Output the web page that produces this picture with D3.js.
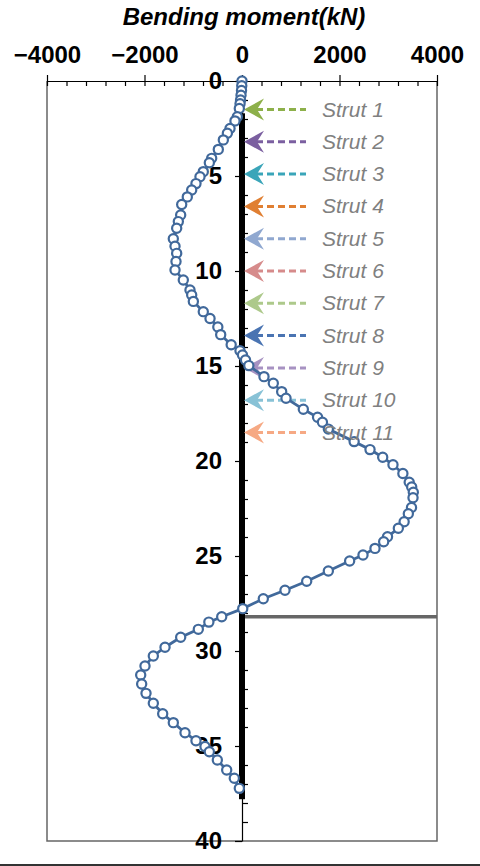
<!DOCTYPE html>
<head>
<meta charset="utf-8">
<style>
body { margin: 0; background: #fff; }
svg { display: block; }
.tick text {
  font-family: "Liberation Sans", Arial, sans-serif;
  font-weight: bold;
  font-size: 24px;
  fill: #000;
}
.title {
  font-family: "Liberation Sans", Arial, sans-serif;
  font-weight: bold;
  font-style: italic;
  font-size: 24px;
}
.strut-label {
  font-family: "Liberation Sans", Arial, sans-serif;
  font-style: italic;
  font-size: 21px;
  fill: #808080;
}
</style>
</head>
<body>
<svg width="480" height="866"></svg>
<script src="https://d3js.org/d3.v7.min.js"></script>
<script>

// depth (m) and bending moment (kN)
var depth = [0, 0.25, 0.5, 0.75, 1.0, 1.2, 1.45, 1.88, 2.1, 2.5, 2.75, 3.1, 3.6, 4.07, 4.3,
  4.77, 5.04, 5.4, 5.74, 6.1, 6.5, 7.05, 7.4, 7.75, 8.3, 8.7, 9.07, 9.5, 9.95, 10.47,
  11.0, 11.26, 11.6, 12.14, 12.5, 12.95, 13.35, 13.88, 14.2, 14.42, 14.68, 14.98, 15.56,
  15.91, 16.35, 16.7, 17.28, 17.7, 17.96, 18.32, 18.98, 19.4, 19.8, 20.2, 20.66, 21.12,
  21.37, 21.64, 21.93, 22.45, 22.78, 23.2, 23.54, 23.99, 24.25, 24.6, 24.95, 25.26, 25.79,
  26.33, 26.8, 27.25, 27.77, 28.2, 28.48, 28.86, 29.28, 29.8, 30.26, 30.79, 31.26, 31.74,
  32.23, 32.75, 33.3, 33.77, 34.3, 34.72, 35.03, 35.3, 35.74, 36.26, 36.7, 37.23];

var moment = [0, -5, -10, -20, -30, -40, -55, -96, -144, -246, -300, -383, -486, -622, -670,
  -794, -862, -944, -1032, -1122, -1237, -1258, -1306, -1340, -1409, -1374, -1340, -1354, -1374, -1204,
  -1067, -1032, -998, -794, -656, -496, -437, -222, -41, 10, 72, 140, 451,
  642, 814, 903, 1258, 1550, 1650, 1771, 2300, 2626, 2886, 3097, 3300, 3430,
  3481, 3514, 3508, 3477, 3412, 3326, 3207, 2985, 2906, 2728, 2482, 2208, 1771,
  1327, 882, 437, 15, -416, -680, -896, -1258, -1579, -1819, -1990, -2078, -2058,
  -1969, -1819, -1627, -1409, -1169, -944, -759, -670, -506, -314, -158, -55];

var strutNames = ["Strut 1", "Strut 2", "Strut 3", "Strut 4", "Strut 5", "Strut 6",
  "Strut 7", "Strut 8", "Strut 9", "Strut 10", "Strut 11"];
var strutDepth = [1.5, 3.2, 4.9, 6.6, 8.3, 10.0, 11.7, 13.4, 15.1, 16.8, 18.5];

var wallTop = 1.7, wallBottom = 37.8;   // wall extent (m)
var excavation = 28.2;                  // final excavation level (m)

var xMajor = [-4000, -2000, 0, 2000, 4000];
var yMajor = [0, 5, 10, 15, 20, 25, 30, 35, 40];

var strutColor = ["#8db04a", "#7b5fa0", "#3aa5b9", "#e07f32", "#90a8d0", "#d68b8b",
  "#adc98b", "#4a74b2", "#a792c2", "#88c2d6", "#f6a984"];
var blue = "#41699b";

var svg = d3.select("svg");

var x = d3.scaleLinear().domain([-4000, 4000]).range([47, 437]);
var y = d3.scaleLinear().domain([0, 40]).range([81, 841]);

// plot box
svg.append("path")
    .attr("d", "M" + x(-4000) + "," + y(0) + "V" + y(40) + "H" + x(4000) + "V" + y(0))
    .attr("fill", "none")
    .attr("stroke", "#666")
    .attr("stroke-width", 1.5);

// title
svg.append("text")
    .attr("class", "title")
    .attr("x", x(0) + 2)
    .attr("y", 25)
    .attr("text-anchor", "middle")
    .text("Bending moment(kN)");

// top axis
var fmt = function(d) { return d < 0 ? "\u2212" + Math.abs(d) : d; };
svg.append("g").attr("transform", "translate(0," + y(0) + ")")
    .call(d3.axisTop(x).tickValues(xMajor).tickSize(6).tickSizeOuter(0).tickPadding(12).tickFormat(fmt));
svg.append("g").attr("transform", "translate(0," + y(0) + ")")
    .call(d3.axisBottom(x).tickValues(d3.range(-4000, 4001, 400)).tickSize(5).tickFormat(""))
    .call(function(g) { g.select(".domain").remove(); });

// depth axis at zero moment
svg.append("g").attr("transform", "translate(" + x(0) + ",0)")
    .call(d3.axisLeft(y).tickValues(yMajor).tickSize(7).tickSizeOuter(0).tickPadding(13));
svg.append("g").attr("transform", "translate(" + x(0) + ",0)")
    .call(d3.axisRight(y).tickValues(d3.range(1, 40).filter(function(d) { return d % 5; }))
      .tickSize(6).tickFormat(""))
    .call(function(g) { g.select(".domain").remove(); });

svg.selectAll(".domain, .tick line").attr("stroke", "#000").attr("stroke-width", 1.2);

// wall
svg.append("rect")
    .attr("x", x(0) - 3)
    .attr("y", y(wallTop))
    .attr("width", 6)
    .attr("height", y(wallBottom) - y(wallTop))
    .attr("fill", "#000");

// excavation level
svg.append("line")
    .attr("x1", x(0) + 3).attr("x2", x(4000))
    .attr("y1", y(excavation)).attr("y2", y(excavation))
    .attr("stroke", "#666")
    .attr("stroke-width", 3.5);

// strut arrows
var struts = strutDepth.map(function(d, i) { return { d: d, name: strutNames[i], c: strutColor[i] }; });
var sg = svg.append("g").selectAll("g").data(struts).enter().append("g")
    .attr("transform", function(d) { return "translate(" + (x(0) + 2) + "," + y(d.d) + ")"; });
sg.append("line")
    .attr("x1", 12).attr("x2", 62)
    .attr("stroke", function(d) { return d.c; })
    .attr("stroke-width", 3)
    .attr("stroke-dasharray", "7,4");
sg.append("path")
    .attr("d", "M0,0L20,-11L13,0L20,11Z")
    .attr("fill", function(d) { return d.c; });

// bending moment curve
var pts = depth.map(function(d, i) { return { d: d, m: moment[i] }; });
var line = d3.line().x(function(d) { return x(d.m); }).y(function(d) { return y(d.d); });
svg.append("path")
    .datum(pts)
    .attr("d", line)
    .attr("fill", "none")
    .attr("stroke", blue)
    .attr("stroke-width", 2.8);
svg.append("g").selectAll("circle").data(pts).enter().append("circle")
    .attr("cx", function(d) { return x(d.m); })
    .attr("cy", function(d) { return y(d.d); })
    .attr("r", 4.6)
    .attr("fill", "#fff")
    .attr("stroke", blue)
    .attr("stroke-width", 2.2);

// strut labels on top
svg.append("g").selectAll("text").data(struts).enter().append("text")
    .attr("class", "strut-label")
    .attr("x", x(0) + 80)
    .attr("y", function(d) { return y(d.d) + 7; })
    .text(function(d) { return d.name; });

// frame line at the bottom of the picture
svg.append("line")
    .attr("x1", 0).attr("x2", 480)
    .attr("y1", 865).attr("y2", 865)
    .attr("stroke", "#333")
    .attr("stroke-width", 2);

</script>
</body>
